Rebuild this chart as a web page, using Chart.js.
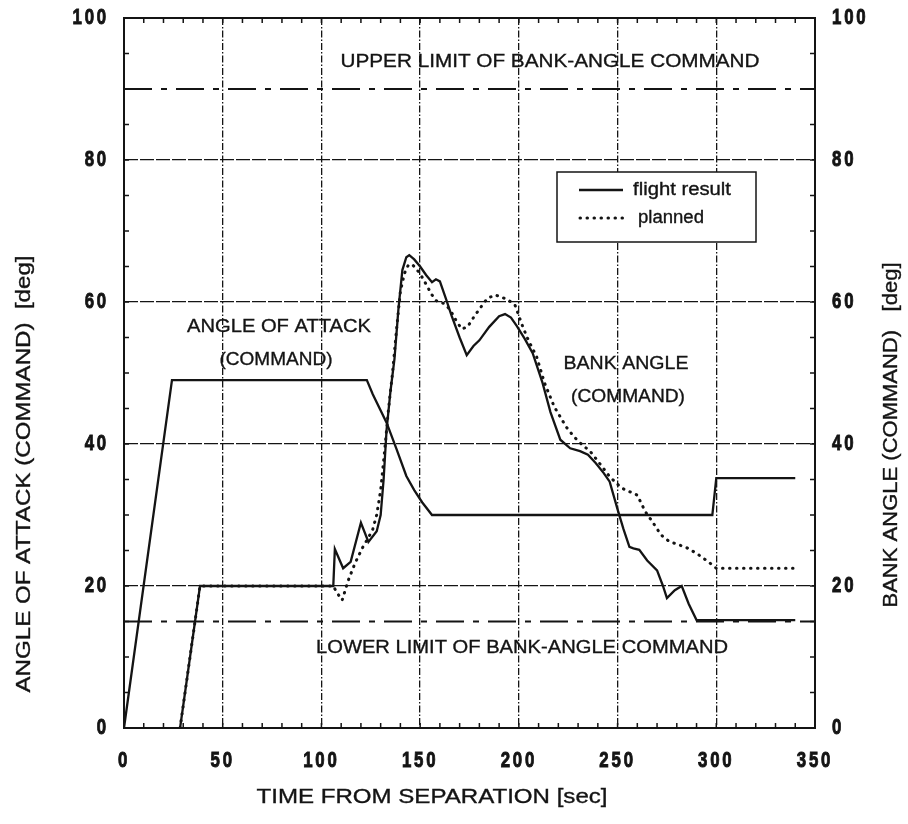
<!DOCTYPE html>
<html>
<head>
<meta charset="utf-8">
<script src="https://cdn.jsdelivr.net/npm/chart.js@4.4.1/dist/chart.umd.min.js"></script>
<style>
  html, body { margin: 0; padding: 0; background: #fff; }
  #wrap { width: 908px; height: 824px; position: relative; }
</style>
</head>
<body>
<div id="wrap"><canvas id="c" width="908" height="824"></canvas></div>
<script>
// ---- data ----
const xTicks = [0, 50, 100, 150, 200, 250, 300, 350];
const yTicks = [0, 20, 40, 60, 80, 100];

const timeAoA = [0, 24.3, 123, 126, 133, 138, 143, 147, 151, 156, 298, 300, 340];
const aoaCommand = [0, 49, 49, 47, 43, 39.3, 35.5, 33.5, 31.8, 30, 30, 35.2, 35.2];

const timeBankFlight = [28.4, 38.5, 106, 106.8, 111, 114.8, 120, 123.8, 128, 130, 131.5, 133, 135, 137, 139, 141, 143, 144.5, 147, 150, 153, 156, 158, 160, 163, 166, 170, 173.6, 177, 180, 185, 190, 193, 196, 199, 203, 207, 212, 216, 221, 226, 231, 235, 239, 243, 246, 250, 253, 256, 258, 261, 265, 270, 273, 275, 279, 282.5, 286, 290, 340];
const bankFlight = [0, 20, 20, 25.2, 22.5, 23.4, 28.9, 26.2, 27.7, 30, 35, 42, 47.5, 52, 59, 64.5, 66.3, 66.6, 66, 65, 63.8, 62.8, 63.2, 62.9, 60.5, 58, 55, 52.5, 53.8, 54.6, 56.5, 58, 58.3, 57.8, 56.6, 54.8, 52.8, 48.6, 44.5, 40.6, 39.4, 39, 38.5, 37.3, 35.9, 34.7, 30.8, 28, 25.5, 25.3, 25.1, 23.6, 22.2, 20, 18.3, 19.4, 20, 17.5, 15.2, 15.2];

const timeBankPlanned = [28.4, 38.5, 106, 108, 110.5, 113.6, 117, 121, 123.6, 126, 128, 130, 132, 134, 136, 138, 140, 142, 144, 146, 150, 153, 156, 158, 162, 165, 168, 171, 174, 177, 180, 184, 188, 192, 195, 198, 202, 205, 209, 213, 218, 224, 228, 232, 236, 240, 246, 252, 256, 260, 264, 268, 272, 276, 280, 285, 290, 296, 300, 340];
const bankPlanned = [0, 20, 20, 19, 18, 20.8, 23.2, 25.5, 26.7, 28, 30, 33.5, 39, 45, 50, 56, 61.5, 64, 65.2, 65.3, 64, 62.5, 61, 60.2, 59.8, 59, 57.5, 56.2, 56.5, 57.8, 59, 60.5, 61, 60.6, 60.2, 59.6, 56.5, 54.5, 52.3, 48.6, 45.2, 42.4, 41, 39.9, 39, 37.6, 35.4, 33.8, 33.3, 32.8, 30.5, 28.9, 27.2, 26.3, 25.9, 25.4, 24.6, 23.4, 22.5, 22.5];

const limitTime = [0, 350];
const upperLimit = [90, 90];
const lowerLimit = [15, 15];

const legendLabels = ['flight result', 'planned'];

// ---- helpers ----
const pts = (xs, ys) => xs.map((x, i) => ({ x: x, y: ys[i] }));
const INK = '#141414';
const TEXT_FONT = "'Liberation Sans', Arial, Helvetica, sans-serif";

// draw text stretched horizontally to the width measured on the reference
function fitText(ctx, text, cx, cy, size, width, rot, weight) {
  ctx.save();
  ctx.letterSpacing = '0px';
  ctx.font = (weight || 'normal') + ' ' + size + 'px ' + TEXT_FONT;
  const w = ctx.measureText(text).width;
  ctx.translate(cx, cy);
  if (rot) ctx.rotate(rot);
  ctx.scale(width / w, 1);
  ctx.fillStyle = INK;
  ctx.strokeStyle = INK;
  ctx.lineWidth = 0.35;
  ctx.textAlign = 'center';
  ctx.textBaseline = 'middle';
  ctx.fillText(text, 0, 0);
  ctx.strokeText(text, 0, 0);
  ctx.restore();
}

// tick labels: condensed, heavy look (narrow bold digits with spacing)
const NARROW = 0.8;
const decor = {
  id: 'decor',
  beforeDraw(chart) {
    const ctx = chart.ctx;
    ctx.save();
    ctx.fillStyle = '#fff';
    ctx.fillRect(0, 0, chart.width, chart.height);
    ctx.restore();
    ctx.letterSpacing = '3.5px';
    if (!ctx._origFill) {
      ctx._origFill = ctx.fillText;
      ctx.fillText = function (t, x, y, mw) {
        this.save();
        this.translate(x, y);
        this.scale(NARROW, 1.05);
        this._origFill(t, 0, 0);
        this.strokeStyle = this.fillStyle;
        this.lineWidth = 0.9;
        this.strokeText(t, 0, 0);
        this.restore();
      };
    }
  },
  beforeDatasetsDraw(chart) {
    const ctx = chart.ctx;
    ctx.letterSpacing = '0px';
    if (ctx._origFill) { ctx.fillText = ctx._origFill; delete ctx._origFill; }
  },
  afterDraw(chart) {
    const ctx = chart.ctx;
    const a = chart.chartArea;
    const sx = chart.scales.x, sy = chart.scales.y;
    ctx.save();
    ctx.letterSpacing = '0px';
    ctx.strokeStyle = INK;
    ctx.lineWidth = 2;
    ctx.setLineDash([]);
    ctx.strokeRect(a.left, a.top, a.right - a.left, a.bottom - a.top);
    ctx.lineWidth = 1.5;
    ctx.beginPath();
    for (let v = 0; v <= 350; v += 10) {
      const px = sx.getPixelForValue(v);
      ctx.moveTo(px, a.bottom); ctx.lineTo(px, a.bottom - 5);
      ctx.moveTo(px, a.top); ctx.lineTo(px, a.top + 5);
    }
    for (let v = 0; v <= 100; v += 5) {
      const py = sy.getPixelForValue(v);
      ctx.moveTo(a.left, py); ctx.lineTo(a.left + 5, py);
      ctx.moveTo(a.right, py); ctx.lineTo(a.right - 5, py);
    }
    ctx.stroke();
    ctx.restore();

    // annotations
    fitText(ctx, 'UPPER LIMIT OF BANK-ANGLE COMMAND', 550, 62, 19, 419);
    fitText(ctx, 'LOWER LIMIT OF BANK-ANGLE COMMAND', 522, 648, 19, 412);
    fitText(ctx, 'ANGLE OF ATTACK', 279, 327, 19, 184);
    fitText(ctx, '(COMMAND)', 276, 360, 19, 113);
    fitText(ctx, 'BANK ANGLE', 626, 364, 19, 125);
    fitText(ctx, '(COMMAND)', 628, 397, 19, 114);

    // axis titles
    fitText(ctx, 'TIME FROM SEPARATION [sec]', 432, 797, 20, 351);
    fitText(ctx, 'ANGLE OF ATTACK (COMMAND)  [deg]', 24, 474, 21, 437, -Math.PI / 2);
    fitText(ctx, 'BANK ANGLE (COMMAND)   [deg]', 891, 435, 20, 345, -Math.PI / 2);

    // legend
    ctx.save();
    ctx.letterSpacing = '0px';
    ctx.fillStyle = '#fff';
    ctx.fillRect(557, 172, 199, 70);
    ctx.strokeStyle = INK;
    ctx.lineWidth = 1.5;
    ctx.strokeRect(557, 172, 199, 70);
    const dsF = chart.data.datasets[1], dsP = chart.data.datasets[2];
    ctx.lineWidth = dsF.borderWidth;
    ctx.setLineDash([]);
    ctx.beginPath(); ctx.moveTo(579, 190); ctx.lineTo(623, 190); ctx.stroke();
    ctx.lineWidth = dsP.borderWidth;
    ctx.lineCap = 'round';
    ctx.setLineDash(dsP.borderDash);
    ctx.beginPath(); ctx.moveTo(580, 218); ctx.lineTo(623, 218); ctx.stroke();
    ctx.restore();
    fitText(ctx, legendLabels[0], 633 + 49, 190, 18, 98);
    fitText(ctx, legendLabels[1], 638 + 33, 218, 18, 66);
  }
};

const solid = { borderColor: INK, borderWidth: 2.3, pointRadius: 0, tension: 0, fill: false };
const tickFont = { family: "'Liberation Sans', Arial, sans-serif", size: 21, weight: 'bold' };

new Chart(document.getElementById('c'), {
  type: 'line',
  data: {
    datasets: [
      Object.assign({ label: 'AoA command', data: pts(timeAoA, aoaCommand), yAxisID: 'y' }, solid),
      Object.assign({ label: legendLabels[0], data: pts(timeBankFlight, bankFlight), yAxisID: 'y2' }, solid),
      { label: legendLabels[1], data: pts(timeBankPlanned, bankPlanned), yAxisID: 'y2',
        borderColor: INK, borderWidth: 3, borderDash: [0.5, 6.5], borderCapStyle: 'round',
        pointRadius: 0, tension: 0, fill: false },
      { label: 'upper limit', data: pts(limitTime, upperLimit), yAxisID: 'y2',
        borderColor: INK, borderWidth: 2, borderDash: [28, 9, 6, 9], pointRadius: 0, fill: false },
      { label: 'lower limit', data: pts(limitTime, lowerLimit), yAxisID: 'y2',
        borderColor: INK, borderWidth: 2, borderDash: [28, 9, 6, 9], pointRadius: 0, fill: false }
    ]
  },
  options: {
    responsive: false,
    animation: false,
    events: [],
    layout: { padding: { top: 18, left: 0, right: 0, bottom: 0 } },
    plugins: { legend: { display: false }, tooltip: { enabled: false } },
    scales: {
      x: {
        type: 'linear', min: 0, max: 350,
        afterBuildTicks: s => { s.ticks = xTicks.map(v => ({ value: v })); },
        afterFit: s => { s.height = 96; s.paddingLeft = 0; s.paddingRight = 0; },
        ticks: { color: INK, padding: 20, maxRotation: 0, autoSkip: false, font: tickFont },
        grid: { drawTicks: false, lineWidth: 1.3,
                color: c => (c.tick && (c.tick.value === 0 || c.tick.value === 350)) ? 'rgba(0,0,0,0)' : INK },
        border: { display: false, dash: [7, 2, 1.5, 2] }
      },
      y: {
        type: 'linear', position: 'left', min: 0, max: 100,
        afterBuildTicks: s => { s.ticks = yTicks.map(v => ({ value: v })); },
        afterFit: s => { s.width = 124; s.paddingTop = 0; s.paddingBottom = 0; },
        ticks: { color: INK, padding: 15, font: tickFont },
        grid: { drawTicks: false, lineWidth: 1.3,
                color: c => (c.tick && (c.tick.value === 0 || c.tick.value === 100)) ? 'rgba(0,0,0,0)' : INK },
        border: { display: false, dash: [14, 2] }
      },
      y2: {
        type: 'linear', position: 'right', min: 0, max: 100,
        afterBuildTicks: s => { s.ticks = yTicks.map(v => ({ value: v })); },
        afterFit: s => { s.width = 93; s.paddingTop = 0; s.paddingBottom = 0; },
        ticks: { color: INK, padding: 17, font: tickFont },
        grid: { display: false, drawTicks: false },
        border: { display: false }
      }
    }
  },
  plugins: [decor]
});
</script>
</body>
</html>
